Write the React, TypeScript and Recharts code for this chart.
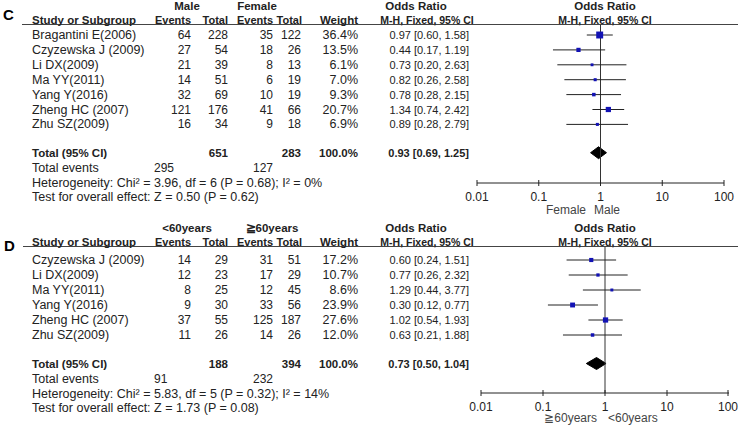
import React from 'react';
import { ComposedChart, XAxis, YAxis, Scatter, ErrorBar, Area, ReferenceLine } from 'recharts';

// panel C: male vs female
const studiesC = ['Bragantini E(2006)', 'Czyzewska J (2009)', 'Li DX(2009)', 'Ma YY(2011)', 'Yang Y(2016)', 'Zheng HC (2007)', 'Zhu SZ(2009)'];
const maleEvents = [64, 27, 21, 14, 32, 121, 16];
const maleTotal = [228, 54, 39, 51, 69, 176, 34];
const femaleEvents = [35, 18, 8, 6, 10, 41, 9];
const femaleTotal = [122, 26, 13, 19, 19, 66, 18];
const weightC = [36.4, 13.5, 6.1, 7.0, 9.3, 20.7, 6.9];
const orC = [0.97, 0.44, 0.73, 0.82, 0.78, 1.34, 0.89];
const loC = [0.6, 0.17, 0.2, 0.26, 0.28, 0.74, 0.28];
const hiC = [1.58, 1.19, 2.63, 2.58, 2.15, 2.42, 2.79];
const totalsC = [651, 283]; // total participants
const eventsC = [295, 127];
const pooledC = [0.93, 0.69, 1.25]; // OR, lower, upper
const hetC = 'Heterogeneity: Chi² = 3.96, df = 6 (P = 0.68); I² = 0%';
const testC = 'Test for overall effect: Z = 0.50 (P = 0.62)';

// panel D: <60 vs >=60 years
const studiesD = ['Czyzewska J (2009)', 'Li DX(2009)', 'Ma YY(2011)', 'Yang Y(2016)', 'Zheng HC (2007)', 'Zhu SZ(2009)'];
const youngEvents = [14, 12, 8, 9, 37, 11];
const youngTotal = [29, 23, 25, 30, 55, 26];
const oldEvents = [31, 17, 12, 33, 125, 14];
const oldTotal = [51, 29, 45, 56, 187, 26];
const weightD = [17.2, 10.7, 8.6, 23.9, 27.6, 12.0];
const orD = [0.6, 0.77, 1.29, 0.3, 1.02, 0.63];
const loD = [0.24, 0.26, 0.44, 0.12, 0.54, 0.21];
const hiD = [1.51, 2.32, 3.77, 0.77, 1.93, 1.88];
const totalsD = [188, 394];
const eventsD = [91, 232];
const pooledD = [0.73, 0.5, 1.04];
const hetD = 'Heterogeneity: Chi² = 5.83, df = 5 (P = 0.32); I² = 14%';
const testD = 'Test for overall effect: Z = 1.73 (P = 0.08)';

const xTicks = [0.01, 0.1, 1, 10, 100];

const FONT = '"Liberation Sans", Arial, sans-serif';
const FS = 11.5;
const FL = 12.5; // wider running text on the left
const FH = 11; // column headers
const INK = '#222';
const BLUE = '#1212b4';

const T = ({ x, y, a = 'start', b = false, s = FS, c = INK, lh = 14, children }: any) => (
  <div
    style={{
      position: 'absolute',
      left: x,
      top: y - lh / 2,
      transform: a === 'end' ? 'translateX(-100%)' : a === 'middle' ? 'translateX(-50%)' : undefined,
      fontWeight: b ? 700 : 400,
      fontSize: s,
      lineHeight: `${lh}px`,
      whiteSpace: 'nowrap',
      color: c,
    }}
  >
    {children}
  </div>
);

const AxisTick = (props: any) => {
  const { x, y, payload } = props;
  return (
    <g>
      <line x1={x} x2={x} y1={y - 3} y2={y + 3} stroke={INK} />
      <text x={x} y={y + 18} textAnchor="middle" fontSize={12} fill={INK} fontFamily={FONT}>
        {String(payload.value)}
      </text>
    </g>
  );
};

const fmtCI = (o: number, l: number, h: number) => `${o.toFixed(2)} [${l.toFixed(2)}, ${h.toFixed(2)}]`;

const Panel = ({ g, d }: any) => {
  const rowY = (i: number) => g.row0 + g.step * i;
  const totY = rowY(g.totIdx);
  const points = d.or.map((o: number, i: number) => ({
    x: o,
    y: i,
    w: d.w[i],
    err: [o - d.lo[i], d.hi[i] - o],
  }));
  const [po, pl, ph] = d.pooled;
  const diamond = [
    { x: pl, r: [g.totIdx, g.totIdx] },
    { x: po, r: [g.totIdx - g.dh, g.totIdx + g.dh] },
    { x: ph, r: [g.totIdx, g.totIdx] },
  ];
  const square = (p: any) => {
    const s = g.k * Math.sqrt(p.payload.w);
    return <rect x={p.cx - s / 2} y={p.cy - s / 2} width={s} height={s} fill={BLUE} />;
  };
  const chartMargin = {
    top: g.plotTop - g.chartTop,
    bottom: g.chartTop + g.chartH - g.plotBottom - 30,
    left: g.axisL,
    right: 740 - g.axisR,
  };
  const yMin = (g.plotTop - g.row0) / g.step;
  const yMax = (g.plotBottom - g.row0) / g.step;

  return (
    <>
      <div style={{ position: 'absolute', left: 0, top: g.chartTop }}>
        <ComposedChart width={740} height={g.chartH} margin={chartMargin}>
          <XAxis
            type="number"
            dataKey="x"
            scale="log"
            domain={[0.01, 100]}
            allowDataOverflow
            ticks={xTicks}
            tick={<AxisTick />}
            tickLine={false}
            tickSize={0}
            tickMargin={0}
            height={30}
            axisLine={{ stroke: INK }}
          />
          <YAxis type="number" dataKey="y" hide reversed domain={[yMin, yMax]} allowDataOverflow />
          <ReferenceLine x={1} stroke="#333" />
          <Area
            data={diamond}
            dataKey="r"
            type="linear"
            stroke="#000"
            fill="#000"
            fillOpacity={1}
            dot={false}
            activeDot={false}
            isAnimationActive={false}
          />
          <Scatter data={points} shape={square} isAnimationActive={false}>
            <ErrorBar dataKey="err" direction="x" width={0} stroke={INK} strokeWidth={1} />
          </Scatter>
        </ComposedChart>
      </div>

      <T x={g.letterX} y={g.letterY} b s={15} c="#000">{g.letter}</T>
      <div style={{ position: 'absolute', left: g.ruleL, top: g.ruleY, width: 738 - g.ruleL, height: 1, background: '#444' }} />

      <T x={187} y={g.h1} a="middle" b>{d.groups[0]}</T>
      <T x={g.g2x} y={g.h1} a="middle" b>{d.groups[1]}</T>
      <T x={416} y={g.h1} a="middle" b>Odds Ratio</T>
      <T x={605} y={g.h1} a="middle" b>Odds Ratio</T>

      <T x={32} y={g.h2} b>Study or Subgroup</T>
      <T x={191} y={g.h2} a="end" b s={FH}>Events</T>
      <T x={228} y={g.h2} a="end" b s={FH}>Total</T>
      <T x={273} y={g.h2} a="end" b s={FH}>Events</T>
      <T x={302} y={g.h2} a="end" b s={FH}>Total</T>
      <T x={358} y={g.h2} a="end" b>Weight</T>
      <T x={427} y={g.h2} a="middle" b s={10.5}>M-H, Fixed, 95% CI</T>
      <T x={605} y={g.h2} a="middle" b s={10.5}>M-H, Fixed, 95% CI</T>

      {d.names.map((n: string, i: number) => (
        <React.Fragment key={n}>
          <T x={32} y={rowY(i)} s={FL}>{n}</T>
          <T x={191} y={rowY(i)} a="end" s={12}>{d.e1[i]}</T>
          <T x={228} y={rowY(i)} a="end" s={12}>{d.t1[i]}</T>
          <T x={273} y={rowY(i)} a="end" s={12}>{d.e2[i]}</T>
          <T x={301} y={rowY(i)} a="end" s={12}>{d.t2[i]}</T>
          <T x={358} y={rowY(i)} a="end" s={FL}>{d.w[i].toFixed(1)}%</T>
          <T x={469} y={rowY(i)} a="end" s={11}>{fmtCI(d.or[i], d.lo[i], d.hi[i])}</T>
        </React.Fragment>
      ))}

      <T x={32} y={totY} b>Total (95% CI)</T>
      <T x={228} y={totY} a="end" b>{d.totals[0]}</T>
      <T x={301} y={totY} a="end" b>{d.totals[1]}</T>
      <T x={358} y={totY} a="end" b>100.0%</T>
      <T x={469} y={totY} a="end" b s={11}>{fmtCI(po, pl, ph)}</T>

      <T x={32} y={totY + 15} s={FL}>Total events</T>
      <T x={154} y={totY + 15} s={12}>{d.events[0]}</T>
      <T x={253} y={totY + 15} s={12}>{d.events[1]}</T>
      <T x={32} y={totY + 30} s={FL}>{d.het}</T>
      <T x={32} y={totY + 44} s={FL}>{d.test}</T>

      <T x={g.favL} y={g.favY} a="end" c="#444" s={12} lh={12}>{d.favours[0]}</T>
      <T x={g.favR} y={g.favY} c="#444" s={12} lh={12}>{d.favours[1]}</T>
    </>
  );
};

const geoC = {
  letter: 'C', letterX: 3, letterY: 15,
  h1: 6, h2: 20, ruleY: 24, ruleL: 22,
  row0: 35, step: 14.9, totIdx: 7.9,
  plotTop: 24, plotBottom: 183, chartTop: 0, chartH: 215,
  axisL: 477, axisR: 724, g2x: 257,
  favL: 586, favR: 594, favY: 210,
  k: 1.15, dh: 0.4,
};

const geoD = {
  letter: 'D', letterX: 4, letterY: 246,
  h1: 228, h2: 242, ruleY: 246, ruleL: 23,
  row0: 260, step: 15, totIdx: 6.9,
  plotTop: 246, plotBottom: 393, chartTop: 215, chartH: 210,
  axisL: 481, axisR: 729, g2x: 272,
  favL: 597, favR: 608, favY: 418,
  k: 1.0, dh: 0.4,
};

const dataC = {
  names: studiesC, e1: maleEvents, t1: maleTotal, e2: femaleEvents, t2: femaleTotal,
  w: weightC, or: orC, lo: loC, hi: hiC, totals: totalsC, events: eventsC, pooled: pooledC,
  het: hetC, test: testC, groups: ['Male', 'Female'], favours: ['Female', 'Male'],
};

const dataD = {
  names: studiesD, e1: youngEvents, t1: youngTotal, e2: oldEvents, t2: oldTotal,
  w: weightD, or: orD, lo: loD, hi: hiD, totals: totalsD, events: eventsD, pooled: pooledD,
  het: hetD, test: testD, groups: ['<60years', '≧60years'], favours: ['≧60years', '<60years'],
};

export default function App() {
  return (
    <div
      style={{
        position: 'absolute',
        left: 0,
        top: 0,
        width: 740,
        height: 425,
        overflow: 'hidden',
        background: '#fff',
        fontFamily: FONT,
      }}
    >
      <Panel g={geoC} d={dataC} />
      <Panel g={geoD} d={dataD} />
    </div>
  );
}
